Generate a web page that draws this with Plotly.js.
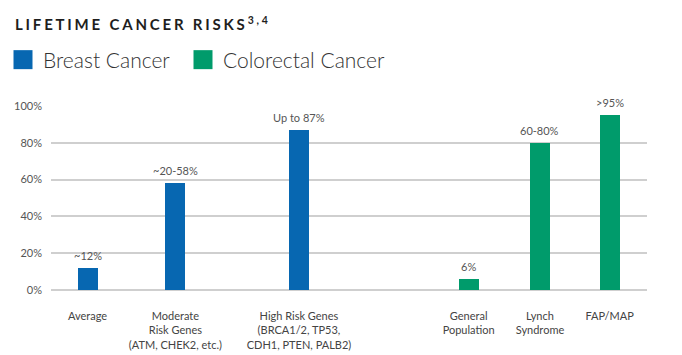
<!DOCTYPE html>
<html><head><meta charset="utf-8">
<script src="https://cdn.plot.ly/plotly-3.0.1.min.js"></script>
<style>html,body{margin:0;padding:0;background:#fff}</style>
</head><body>
<div id="chart" style="width:682px;height:355px"></div>
<script>
// ---- data ----
const breastCategories = ['Average', 'Moderate<br>Risk Genes<br>(ATM, CHEK2, etc.)', 'High Risk Genes<br>(BRCA1/2, TP53,<br>CDH1, PTEN, PALB2)'];
const breastValues = [12, 58, 87];
const breastLabels = ['~12%', '~20-58%', 'Up to 87%'];
const colorectalCategories = ['General<br>Population', 'Lynch<br>Syndrome', 'FAP/MAP'];
const colorectalValues = [6, 80, 95];
const colorectalLabels = ['6%', '60-80%', '>95%'];
const yTickValues = [0, 20, 40, 60, 80, 100];
const yTickLabels = ['0%', '20%', '40%', '60%', '80%', '100%'];

// ---- layout slots (horizontal placement of groups) ----
const breastSlots = [2.1, 7.15, 14.25];
const colorectalSlots = [24.0, 28.1, 32.1];

const BLUE = '#0767b1', GREEN = '#009b6b';
const FONT = 'Lato, "Open Sans", sans-serif';

const traces = [
  {type: 'bar', name: 'Breast Cancer', x: breastSlots, y: breastValues, width: 1.15,
   marker: {color: BLUE}, hoverinfo: 'skip'},
  {type: 'bar', name: 'Colorectal Cancer', x: colorectalSlots, y: colorectalValues, width: 1.15,
   marker: {color: GREEN}, hoverinfo: 'skip'}
];

const annotations = [];
breastSlots.forEach((x, i) => annotations.push({x: x, y: breastValues[i], text: breastLabels[i]}));
colorectalSlots.forEach((x, i) => annotations.push({x: x, y: colorectalValues[i], text: colorectalLabels[i]}));
annotations.forEach(a => Object.assign(a, {xref: 'x', yref: 'y', showarrow: false, yanchor: 'bottom', yshift: 4,
  font: {family: FONT, size: 11, color: '#555'}}));

const layout = {
  width: 682, height: 355,
  margin: {l: 51, r: 35, t: 106, b: 65, pad: 0, autoexpand: false},
  paper_bgcolor: '#fff', plot_bgcolor: '#fff',
  font: {family: FONT, color: '#555', size: 11},
  title: {text: '<b>LIFETIME CANCER RISKS</b><sup><b>3,4</b></sup>', x: 15 / 682, xanchor: 'left',
          y: 1 - 25 / 355, yanchor: 'middle', xref: 'container', yref: 'container',
          font: {family: FONT, size: 15, color: '#1e1e1e'}},
  showlegend: true,
  legend: {orientation: 'h', xref: 'container', yref: 'container', x: 3 / 682, xanchor: 'left',
           y: 1 - 60 / 355, yanchor: 'middle',
           font: {family: FONT, size: 21, color: '#333', weight: 300}, itemclick: false, itemdoubleclick: false,
           traceorder: 'normal', entrywidth: 135, entrywidthmode: 'pixels'},
  xaxis: {range: [0, 34.25], tickvals: breastSlots.concat(colorectalSlots),
          ticktext: breastCategories.concat(colorectalCategories), showgrid: false, zeroline: false,
          showline: false, ticks: '', ticklabelstandoff: 18, tickfont: {family: FONT, size: 11, color: '#444'},
          fixedrange: true},
  yaxis: {range: [0, 100], tickvals: yTickValues, ticktext: yTickLabels, showgrid: true, gridcolor: '#cfcfcf', gridwidth: 2,
          zeroline: true, zerolinecolor: '#cfcfcf', zerolinewidth: 2, showline: false, ticks: '',
          ticklabelstandoff: 8, tickfont: {family: FONT, size: 11, color: '#555'}, fixedrange: true},
  annotations: annotations,
  bargap: 0
};

Plotly.newPlot('chart', traces, layout, {displayModeBar: false, staticPlot: true}).then(gd => {
  const t = gd.querySelector('.gtitle');
  if (t) t.setAttribute('letter-spacing', '2.8px');
  gd.querySelectorAll('.legend .scrollbox, .legend [clip-path]').forEach(s => s.removeAttribute('clip-path'));
  gd.querySelectorAll('.legendpoints path').forEach(p => {
    p.setAttribute('d', 'M9.5,9.5H-9.5V-9.5H9.5Z');
    p.style.strokeWidth = '0';
  });
});
</script>
</body></html>
